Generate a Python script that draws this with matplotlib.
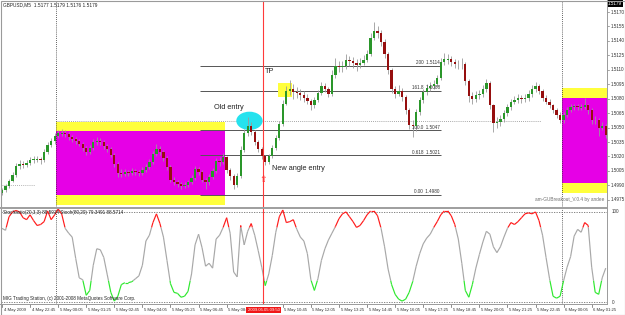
import numpy as np
import matplotlib
matplotlib.use("Agg")
import matplotlib.pyplot as plt
from matplotlib.patches import Rectangle, Ellipse
from matplotlib.collections import LineCollection
from matplotlib.transforms import blended_transform_factory as btf
from datetime import datetime

plt.rcParams['font.family'] = ['Liberation Sans', 'DejaVu Sans']

# ---------------- data ----------------
symbol_header = "GBPUSD,M5  1.5177 1.5179 1.5176 1.5179"
osc_header = "Stochastic(20,3,3) 88.5914 Stoch(80,20) 79.3491 88.5714"
copyright_text = "MIG Trading Station, (c) 2001-2008 MetaQuotes Software Corp."
ea_text = "am-GUBreakout_V.0.4 by andee"
last_price = "1.5179"

start_time = datetime(2009, 5, 4, 21, 25)   # first M5 bar
bars_per_candle = 2
first_open = 1.4982

closes = [1.4985, 1.4989, 1.4995, 1.5001, 1.5010, 1.5012, 1.5011, 1.5013, 1.5016, 1.5017,
          1.5017, 1.5016, 1.5025, 1.5032, 1.5036, 1.5041, 1.5044, 1.5044, 1.5043, 1.5040,
          1.5038, 1.5036, 1.5033, 1.5029, 1.5025, 1.5029, 1.5035, 1.5036, 1.5035, 1.5031,
          1.5028, 1.5022, 1.5012, 1.5003, 1.5002, 1.5004, 1.5003, 1.5005, 1.5004, 1.5003,
          1.5006, 1.5009, 1.5014, 1.5023, 1.5028, 1.5025, 1.5018, 1.5009, 1.4996, 1.4993,
          1.4991, 1.4989, 1.4990, 1.4993, 1.4998, 1.5007, 1.5004, 1.4996, 1.4993, 1.4999,
          1.5005, 1.5015, 1.5014, 1.5019, 1.5006, 1.5000, 1.4990, 1.5000, 1.5027, 1.5044,
          1.5052, 1.5045, 1.5035, 1.5028, 1.5020, 1.5014, 1.5020, 1.5029, 1.5039, 1.5054,
          1.5075, 1.5088, 1.5090, 1.5087, 1.5086, 1.5084, 1.5081, 1.5078, 1.5073, 1.5079,
          1.5086, 1.5093, 1.5090, 1.5085, 1.5105, 1.5114, 1.5113, 1.5114, 1.5120, 1.5119,
          1.5117, 1.5115, 1.5117, 1.5120, 1.5126, 1.5143, 1.5150, 1.5148, 1.5139, 1.5126,
          1.5110, 1.5090, 1.5085, 1.5088, 1.5082, 1.5068, 1.5053, 1.5052, 1.5066, 1.5079,
          1.5087, 1.5091, 1.5093, 1.5095, 1.5101, 1.5118, 1.5121, 1.5121, 1.5118, 1.5116,
          1.5116, 1.5116, 1.5098, 1.5083, 1.5080, 1.5084, 1.5085, 1.5090, 1.5096, 1.5073,
          1.5055, 1.5056, 1.5059, 1.5065, 1.5071, 1.5077, 1.5079, 1.5081, 1.5080, 1.5081,
          1.5085, 1.5090, 1.5093, 1.5088, 1.5081, 1.5077, 1.5073, 1.5068, 1.5063, 1.5058,
          1.5063, 1.5068, 1.5071, 1.5072, 1.5071, 1.5071, 1.5073, 1.5068, 1.5058, 1.5058,
          1.5050, 1.5052, 1.5042]

highs = [1.4987, 1.4991, 1.4997, 1.5004, 1.5013, 1.5016, 1.5015, 1.5016, 1.5019, 1.5020,
         1.5021, 1.5019, 1.5028, 1.5035, 1.5039, 1.5044, 1.5048, 1.5049, 1.5047, 1.5045,
         1.5042, 1.5040, 1.5038, 1.5035, 1.5031, 1.5032, 1.5038, 1.5040, 1.5039, 1.5037,
         1.5033, 1.5030, 1.5024, 1.5014, 1.5007, 1.5007, 1.5006, 1.5008, 1.5007, 1.5006,
         1.5009, 1.5012, 1.5017, 1.5026, 1.5033, 1.5031, 1.5027, 1.5020, 1.5011, 1.4999,
         1.4996, 1.4994, 1.4993, 1.4996, 1.5001, 1.5010, 1.5009, 1.5006, 1.4998, 1.5002,
         1.5008, 1.5018, 1.5019, 1.5024, 1.5021, 1.5008, 1.5002, 1.5003, 1.5031, 1.5049,
         1.5061, 1.5056, 1.5047, 1.5037, 1.5030, 1.5022, 1.5023, 1.5032, 1.5042, 1.5057,
         1.5079, 1.5093, 1.5099, 1.5095, 1.5092, 1.5090, 1.5088, 1.5085, 1.5080, 1.5082,
         1.5089, 1.5097, 1.5096, 1.5092, 1.5110, 1.5122, 1.5119, 1.5119, 1.5126, 1.5124,
         1.5123, 1.5121, 1.5122, 1.5125, 1.5131, 1.5148, 1.5160, 1.5156, 1.5151, 1.5142,
         1.5129, 1.5112, 1.5093, 1.5094, 1.5091, 1.5084, 1.5070, 1.5058, 1.5069, 1.5082,
         1.5090, 1.5095, 1.5097, 1.5099, 1.5105, 1.5122, 1.5127, 1.5126, 1.5124, 1.5121,
         1.5120, 1.5122, 1.5118, 1.5100, 1.5087, 1.5088, 1.5089, 1.5094, 1.5100, 1.5098,
         1.5075, 1.5061, 1.5063, 1.5068, 1.5074, 1.5080, 1.5083, 1.5085, 1.5084, 1.5085,
         1.5089, 1.5094, 1.5097, 1.5095, 1.5090, 1.5084, 1.5080, 1.5075, 1.5070, 1.5066,
         1.5066, 1.5071, 1.5074, 1.5075, 1.5074, 1.5074, 1.5081, 1.5075, 1.5070, 1.5062,
         1.5060, 1.5056, 1.5054]

lows = [1.4980, 1.4983, 1.4987, 1.4993, 1.4999, 1.5007, 1.5008, 1.5009, 1.5011, 1.5013,
        1.5014, 1.5012, 1.5014, 1.5023, 1.5030, 1.5033, 1.5039, 1.5041, 1.5040, 1.5037,
        1.5035, 1.5033, 1.5031, 1.5026, 1.5022, 1.5023, 1.5027, 1.5032, 1.5032, 1.5028,
        1.5025, 1.5019, 1.5009, 1.4999, 1.4999, 1.5000, 1.5000, 1.5001, 1.5001, 1.5000,
        1.5001, 1.5004, 1.5007, 1.5012, 1.5021, 1.5022, 1.5015, 1.5006, 1.4993, 1.4990,
        1.4988, 1.4986, 1.4987, 1.4988, 1.4991, 1.4996, 1.5001, 1.4993, 1.4986, 1.4990,
        1.4997, 1.5003, 1.5010, 1.5012, 1.5003, 1.4996, 1.4986, 1.4988, 1.4998, 1.5025,
        1.5041, 1.5042, 1.5032, 1.5025, 1.5017, 1.5011, 1.5012, 1.5018, 1.5027, 1.5037,
        1.5052, 1.5073, 1.5084, 1.5080, 1.5081, 1.5079, 1.5077, 1.5074, 1.5068, 1.5070,
        1.5077, 1.5084, 1.5087, 1.5082, 1.5083, 1.5102, 1.5108, 1.5108, 1.5111, 1.5114,
        1.5112, 1.5109, 1.5112, 1.5115, 1.5118, 1.5124, 1.5141, 1.5143, 1.5135, 1.5122,
        1.5106, 1.5086, 1.5081, 1.5083, 1.5078, 1.5064, 1.5049, 1.5040, 1.5046, 1.5063,
        1.5076, 1.5084, 1.5088, 1.5090, 1.5092, 1.5099, 1.5115, 1.5116, 1.5114, 1.5112,
        1.5111, 1.5111, 1.5094, 1.5077, 1.5074, 1.5077, 1.5080, 1.5082, 1.5087, 1.5069,
        1.5045, 1.5050, 1.5052, 1.5056, 1.5062, 1.5068, 1.5074, 1.5076, 1.5076, 1.5077,
        1.5078, 1.5082, 1.5087, 1.5085, 1.5078, 1.5074, 1.5070, 1.5065, 1.5060, 1.5055,
        1.5055, 1.5061, 1.5066, 1.5068, 1.5068, 1.5068, 1.5069, 1.5064, 1.5054, 1.5054,
        1.5041, 1.5047, 1.5039]

osc = [79, 77, 91, 96, 97.5, 96, 90, 88, 93, 87,
       82, 83, 86, 97, 88, 93, 99, 94, 79, 74,
       70, 48, 28, 26, 10, 15, 41, 58, 57, 49,
       31, 13, 4, 9, 21, 23, 23, 24, 27, 30,
       41, 66, 72, 85, 94, 84, 70, 46, 22, 13,
       12, 8, 9, 14, 32, 62, 73, 59, 40, 43,
       38, 68, 72, 80, 90, 74, 34, 29, 82, 62,
       76, 84, 72, 56, 39, 20, 32, 51, 75, 91,
       98, 85, 86, 88, 78, 70, 66, 53, 26, 15,
       27, 46, 58, 67, 74, 81, 89, 94, 96, 91,
       86, 80, 82, 87, 93, 97, 97, 92, 79, 60,
       37, 21, 11, 6, 4, 6, 13, 24, 40, 53,
       63, 69, 73, 80, 86, 93, 97, 97, 92, 83,
       68, 43, 15, 8, 21, 38, 52, 65, 76, 73,
       60, 54, 60, 70, 79, 85, 83, 86, 90, 94,
       95, 94, 96, 87, 72, 49, 27, 9, 7, 9,
       25, 39, 50, 71, 78, 75, 85, 82, 39, 13,
       11, 28, 38]
osc_hi, osc_lo = 80, 25
osc_levels = [3, 96]
osc_level_labels = ["0", "100"]

price_ticks = [1.4975, 1.4990, 1.5005, 1.5020, 1.5035, 1.5050, 1.5065,
               1.5080, 1.5095, 1.5110, 1.5125, 1.5140, 1.5155, 1.5170]

time_labels = ["4 May 2009", "4 May 22:45", "5 May 00:05", "5 May 01:25", "5 May 02:45",
               "5 May 04:05", "5 May 05:25", "5 May 06:45", "5 May 08:05", "5 May 10:45",
               "5 May 12:05", "5 May 13:25", "5 May 14:45", "5 May 16:05", "5 May 17:25",
               "5 May 18:45", "5 May 20:05", "5 May 21:25", "5 May 22:45", "6 May 00:05",
               "6 May 01:25"]
time_label_times = [datetime(2009, 5, 4, 21, 25), datetime(2009, 5, 4, 22, 45),
                    datetime(2009, 5, 5, 0, 5), datetime(2009, 5, 5, 1, 25),
                    datetime(2009, 5, 5, 2, 45), datetime(2009, 5, 5, 4, 5),
                    datetime(2009, 5, 5, 5, 25), datetime(2009, 5, 5, 6, 45),
                    datetime(2009, 5, 5, 8, 5), datetime(2009, 5, 5, 10, 45),
                    datetime(2009, 5, 5, 12, 5), datetime(2009, 5, 5, 13, 25),
                    datetime(2009, 5, 5, 14, 45), datetime(2009, 5, 5, 16, 5),
                    datetime(2009, 5, 5, 17, 25), datetime(2009, 5, 5, 18, 45),
                    datetime(2009, 5, 5, 20, 5), datetime(2009, 5, 5, 21, 25),
                    datetime(2009, 5, 5, 22, 45), datetime(2009, 5, 6, 0, 5),
                    datetime(2009, 5, 6, 1, 25)]
cursor_time = datetime(2009, 5, 5, 9, 50)
cursor_label = "2009.05.05 09:50"
day_separators = [datetime(2009, 5, 5, 0, 0), datetime(2009, 5, 6, 0, 0)]

# breakout boxes: (start, end, range_low, range_high, buffer)
box1 = (datetime(2009, 5, 5, 0, 0), datetime(2009, 5, 5, 8, 0), 1.4980, 1.5046, 0.0010)
box2 = (datetime(2009, 5, 6, 0, 0), datetime(2009, 5, 6, 8, 0), 1.4992, 1.5081, 0.0010)
entry_level = 1.5057
entry_line_span = (datetime(2009, 5, 5, 0, 0), datetime(2009, 5, 5, 23, 0))
prev_level = 1.4990
prev_line_span = (datetime(2009, 5, 4, 21, 25), datetime(2009, 5, 4, 23, 0))

fib_low, fib_high = 1.4980, 1.5047
fib_ratios = [0.0, 0.618, 1.0, 1.618, 2.0]
fib_names = ["0.00", "0.618", "100.0", "161.8", "200"]
fib_span = (datetime(2009, 5, 5, 6, 50), datetime(2009, 5, 5, 18, 15))

tp_zone = (datetime(2009, 5, 5, 10, 30), datetime(2009, 5, 5, 11, 10), 1.5082, 1.5096)
old_entry = (datetime(2009, 5, 5, 9, 10), 1.5057)
old_entry_text = (datetime(2009, 5, 5, 7, 30), 1.5071)
tp_text = (datetime(2009, 5, 5, 9, 55), 1.5108)
new_entry_text = (datetime(2009, 5, 5, 10, 15), 1.5007)
new_entry_arrow = (datetime(2009, 5, 5, 9, 50), 1.4996)

# ---------------- layout ----------------
W, H = 625, 315
PX_PER_BAR = 1.755
X0_PX = 2.0
fig = plt.figure(figsize=(6.25, 3.15), dpi=100)
fig.patch.set_facecolor('white')


def fr(x0, y0, x1, y1):
    return [x0 / W, 1 - y1 / H, (x1 - x0) / W, (y1 - y0) / H]


def bar(t):
    return (t - start_time).total_seconds() / 300.0


ax = fig.add_axes(fr(1, 1, 607, 207))
ax2 = fig.add_axes(fr(1, 209, 607, 304))
xlim = ((1 - X0_PX) / PX_PER_BAR, (607 - X0_PX) / PX_PER_BAR)
for a in (ax, ax2):
    a.set_xlim(*xlim)
    a.set_facecolor('white')
    for s in a.spines.values():
        s.set_visible(False)
    a.set_xticks([])
    a.set_yticks([])
ax.set_ylim(1.4980 - 12 / 9630, 1.4980 + 194 / 9630)
ax2.set_ylim(1.0, 99.0)

# ---------------- main panel ----------------
YEL, MAG = '#ffff3c', '#e600e6'
for (t0, t1, lo, hi, buf) in (box1, box2):
    b0, b1 = bar(t0), bar(t1)
    ax.add_patch(Rectangle((b0, hi), b1 - b0, buf, fc=YEL, ec='none', zorder=1))
    ax.add_patch(Rectangle((b0, lo), b1 - b0, hi - lo, fc=MAG, ec='none', zorder=1))
    ax.add_patch(Rectangle((b0, lo - buf), b1 - b0, buf, fc=YEL, ec='none', zorder=1))

ax.hlines(entry_level, bar(entry_line_span[0]), bar(entry_line_span[1]),
          colors='#8a8a8a', linestyles=(0, (1, 1.5)), lw=0.6, zorder=2)
ax.hlines(prev_level, bar(prev_line_span[0]), bar(prev_line_span[1]),
          colors='#9a9a9a', linestyles=(0, (1, 1.5)), lw=0.6, zorder=2)

fx0, fx1 = bar(fib_span[0]), bar(fib_span[1])
for r, nm in zip(fib_ratios, fib_names):
    p = fib_low + r * (fib_high - fib_low)
    ax.hlines(p, fx0, fx1, colors='#555555', lw=0.7, zorder=2)
    ax.text(fx1 - 0.5, p + 0.00006, f"{nm}  {p:.4f}", ha='right', va='bottom',
            fontsize=3.3, color='#333333', zorder=4)

tz0, tz1, tlo, thi = tp_zone
ax.add_patch(Rectangle((bar(tz0), tlo), bar(tz1) - bar(tz0), thi - tlo, fc=YEL,
                       ec='none', zorder=2))
ax.add_patch(Ellipse((bar(old_entry[0]), old_entry[1]), 15, 0.0019, fc='#25e2ee',
                     ec='none', zorder=2))

for d in day_separators:
    for a in (ax, ax2):
        a.axvline(bar(d), color='#303030', ls=(0, (1, 1.5)), lw=0.6, zorder=2)

# candles
n = len(closes)
cx = np.arange(n) * bars_per_candle
c = np.array(closes)
o = np.array([first_open] + closes[:-1])
hh = np.array(highs)
ll = np.array(lows)
ax.vlines(cx, ll, hh, colors='#9a9a9a', lw=0.6, zorder=3)
up = c >= o
body_lo = np.minimum(o, c)
body_h = np.abs(c - o)
small = body_h < 0.00006
body_lo = np.where(small, (o + c) / 2 - 0.00003, body_lo)
body_h = np.where(small, 0.00006, body_h)
ax.bar(cx, body_h, bottom=body_lo, width=1.3,
       color=np.where(up, '#2a962a', '#960f0f'), linewidth=0, zorder=4)

# cursor line
bc = bar(cursor_time)
ax.axvline(bc, color='#ff3a3a', lw=0.8, zorder=5, ymin=-0.015, clip_on=False)
ax2.axvline(bc, color='#ff3a3a', lw=0.8, zorder=5)

# annotations
ax.text(bar(old_entry_text[0]), old_entry_text[1], "Old entry", fontsize=5.3,
        color='#222222', va='center', ha='left', zorder=6)
ax.text(bar(tp_text[0]), tp_text[1], "TP", fontsize=5.3, color='#222222',
        va='center', ha='left', zorder=6)
ax.text(bar(new_entry_text[0]), new_entry_text[1], "New angle entry", fontsize=5.3,
        color='#222222', va='center', ha='left', zorder=6)
ax.text(bar(new_entry_arrow[0]), new_entry_arrow[1], "\u21e7", fontsize=6.5,
        color='#ff2a2a', va='center', ha='center', zorder=6,
        family=['DejaVu Sans'])

# price scale
tr = btf(ax.transAxes, ax.transData)
for p in price_ticks:
    ax.plot([1.0, 1.004], [p, p], transform=tr, color='#808080', lw=0.5, clip_on=False)
    ax.text(1.0055, p, f"{p:.4f}", transform=tr, fontsize=3.3, va='center', ha='left',
            color='#333333', clip_on=False)
ax.text(1.0015, 0.999, last_price, transform=ax.transAxes, fontsize=3.3, va='top',
        ha='left', color='white',
        bbox=dict(boxstyle='square,pad=0.2', fc='black', ec='none'))

# ---------------- oscillator ----------------
ox = np.arange(len(osc)) * bars_per_candle
ovals = np.array(osc, float)
px_l, pv_l = [ox[0]], [ovals[0]]
for k in range(1, len(ovals)):
    a_, b_ = ovals[k - 1], ovals[k]
    cr = []
    for th in (osc_hi, osc_lo):
        if (a_ - th) * (b_ - th) < 0:
            cr.append((th - a_) / (b_ - a_))
    for t in sorted(cr):
        px_l.append(ox[k - 1] + t * (ox[k] - ox[k - 1]))
        pv_l.append(a_ + t * (b_ - a_))
    px_l.append(ox[k])
    pv_l.append(b_)
px_l, pv_l = np.array(px_l, float), np.array(pv_l, float)
segs = np.stack([np.column_stack([px_l[:-1], pv_l[:-1]]),
                 np.column_stack([px_l[1:], pv_l[1:]])], axis=1)
mid = (pv_l[:-1] + pv_l[1:]) / 2
cols = np.where(mid >= osc_hi - 1e-9, '#ff1a1a',
                np.where(mid <= osc_lo + 1e-9, '#2ee82e', '#a8a8a8'))
ax2.add_collection(LineCollection(segs, colors=list(cols), linewidths=0.85, zorder=4))
for lv in osc_levels:
    ax2.axhline(lv, color='#707070', ls=(0, (1.5, 1.5)), lw=0.6, zorder=2)
tr2 = btf(ax2.transAxes, ax2.transData)
for lv, lb in zip(osc_levels, osc_level_labels):
    ax2.text(1.008, lv, lb, transform=tr2, fontsize=3.3, va='center', ha='left',
             color='#333333', clip_on=False)

# time axis
trt = btf(ax2.transData, ax2.transAxes)
for lbl, t in zip(time_labels, time_label_times):
    b = bar(t)
    ax2.plot([b, b], [0, -0.03], transform=trt, color='#606060', lw=0.5, clip_on=False)
    ax2.text(b + 0.9, -0.065, lbl, transform=trt, fontsize=3.1, va='center',
             ha='left', color='#333333', clip_on=False)
ax2.text(bc, -0.065, cursor_label, transform=trt, fontsize=3.1, va='center',
         ha='center', color='white', clip_on=False, zorder=8,
         bbox=dict(boxstyle='square,pad=0.3', fc='#f01818', ec='none'))

# ---------------- chrome overlay ----------------
ov = fig.add_axes([0, 0, 1, 1], zorder=10)
ov.set_xlim(0, W)
ov.set_ylim(H, 0)
ov.axis('off')
ov.patch.set_alpha(0)
ov.add_patch(Rectangle((0.5, 0.5), W - 1, H - 1, fc='none', ec='#9a9a9a', lw=0.8))
ov.add_patch(Rectangle((0, 206.8), 607, 2.4, fc='#a0a0a0', ec='none'))
ov.plot([607, 607], [0, 304], color='#9a9a9a', lw=0.7)
ov.plot([0, 607], [304.3, 304.3], color='#9a9a9a', lw=0.7)
ov.text(3, 5, symbol_header, fontsize=3.4, va='center', ha='left', color='#222222')
ov.text(3, 212.5, osc_header, fontsize=3.3, va='center', ha='left', color='#222222')
ov.text(3, 298.5, copyright_text, fontsize=3.3, va='center', ha='left', color='#222222')
ov.text(604, 200, ea_text, fontsize=3.4, va='center', ha='right', color='#707070')

fig.savefig("out.png", dpi=100)
